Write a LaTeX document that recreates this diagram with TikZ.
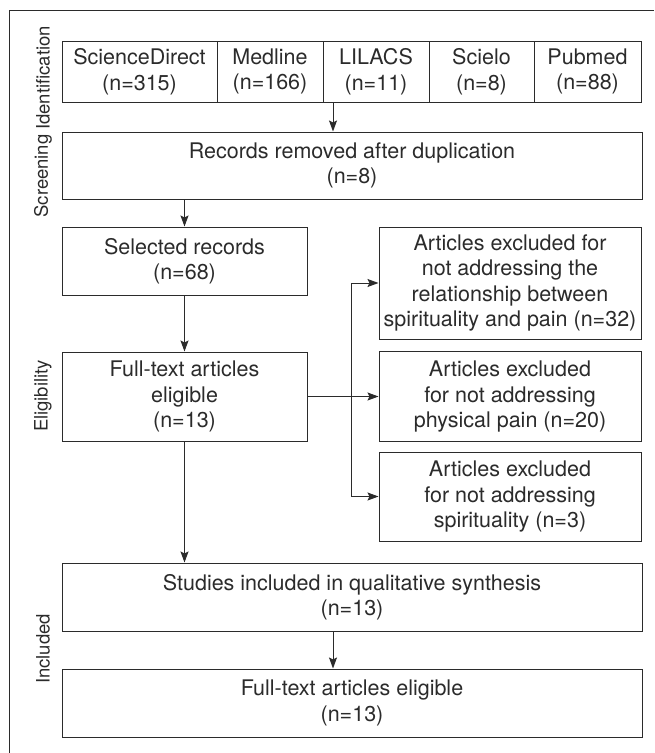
\documentclass[tikz,border=0pt]{standalone}
\usepackage{fontspec}
\setmainfont{TeX Gyre Heros}
\usetikzlibrary{arrows.meta}
\definecolor{ink}{HTML}{2B2B2B}
\tikzset{
  box/.style={draw=ink, line width=1pt, text=ink, align=center, inner sep=0pt,
    font=\fontsize{21.5}{25.5}\selectfont},
  phase/.style={rotate=90, text=ink, font=\fontsize{18.5}{22}\selectfont},
  link/.style={draw=ink, line width=1pt}
}
\begin{document}
\begin{tikzpicture}[x=1pt, y=-1pt, >={Stealth[length=11pt, width=8pt, inset=2pt]}]
\useasboundingbox (0,0) rectangle (654,753);
\draw[link] (9,753) -- (9,10) -- (654,10);
\node[phase] (ident) at (43,78) {Identification};
\node[phase] (screen) at (43,176) {Screening};
\node[phase] (elig) at (43,396) {Eligibility};
\node[phase] (incl) at (43,649) {Included};
\node[box, minimum width=155pt, minimum height=61pt] (src1) at (139.5,71.5) {ScienceDirect\\(n=315)};
\node[box, minimum width=106pt, minimum height=61pt] (src2) at (270,71.5) {Medline\\(n=166)};
\node[box, minimum width=106pt, minimum height=61pt] (src3) at (376,71.5) {LILACS\\(n=11)};
\node[box, minimum width=105pt, minimum height=61pt] (src4) at (481.5,71.5) {Scielo\\(n=8)};
\node[box, minimum width=107pt, minimum height=61pt] (src5) at (587.5,71.5) {Pubmed\\(n=88)};
\node[box, minimum width=580pt, minimum height=67pt] (records) at (352,165.5) {Records removed after duplication\\(n=8)};
\node[box, minimum width=245pt, minimum height=68pt] (selected) at (184.5,261) {Selected records\\(n=68)};
\node[box, minimum width=245pt, minimum height=89pt] (full) at (184.5,396.5) {Full-text articles\\eligible\\(n=13)};
\node[box, minimum width=262pt, minimum height=112pt] (excl1) at (510,283) {Articles excluded for\\not addressing the\\relationship between\\spirituality and pain (n=32)};
\node[box, minimum width=262pt, minimum height=90pt] (excl2) at (510,396.5) {Articles excluded\\for not addressing\\physical pain (n=20)};
\node[box, minimum width=262pt, minimum height=89pt] (excl3) at (510,496.5) {Articles excluded\\for not addressing\\spirituality (n=3)};
\node[box, minimum width=580pt, minimum height=68pt] (studies) at (352,597) {Studies included in qualitative synthesis\\(n=13)};
\node[box, minimum width=580pt, minimum height=68pt] (final) at (352,703) {Full-text articles eligible\\(n=13)};
\coordinate (tap) at (333,0);
\coordinate (split) at (351,0);
\draw[link,->] (tap |- src3.south) -- (tap |- records.north);
\draw[link,->] (selected.north |- records.south) -- (selected.north);
\draw[link,->] (selected) -- (full);
\draw[link,->] (full.south) -- (full.south |- studies.north);
\draw[link,->] (full.east) -- (excl2.west);
\draw[link] (split |- excl1.west) -- (split |- excl3.west);
\draw[link,->] (split |- excl1.west) -- (excl1.west);
\draw[link,->] (split |- excl3.west) -- (excl3.west);
\draw[link,->] (tap |- studies.south) -- (tap |- final.north);
\end{tikzpicture}
\end{document}
